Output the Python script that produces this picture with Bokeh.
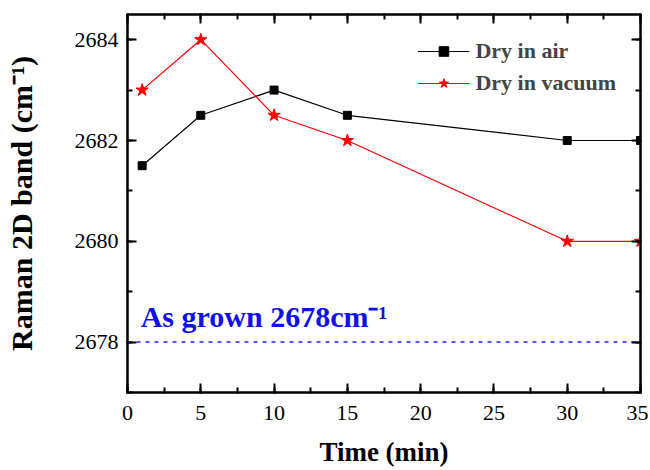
from bokeh.plotting import figure
from bokeh.models import LinearAxis, Range1d, SingleIntervalTicker, Legend, LegendItem
from bokeh.core.properties import value
from bokeh.layouts import gridplot
from bokeh.embed import file_html
from bokeh.resources import INLINE

# data
time_air = [1, 5, 10, 15, 30, 35]
band_air = [2681.5, 2682.5, 2683.0, 2682.5, 2682.0, 2682.0]
time_vac = [1, 5, 10, 15, 30, 35]
band_vac = [2683.0, 2684.0, 2682.5, 2682.0, 2680.0, 2680.0]
as_grown = 2678.0
as_grown_x = [0, 35]
note_x = [0.9]
note_y = [2678.5]
note_text = ["As grown 2678cm\u207b\u00b9"]

SERIF = "Liberation Serif"

p = figure(frame_width=513, frame_height=378, output_backend="svg", toolbar_location=None,
           x_range=Range1d(0, 35), y_range=Range1d(2677, 2684.5),
           min_border_left=127, min_border_right=8, min_border_top=14, min_border_bottom=6,
           x_axis_location=None, y_axis_location=None)
p.xgrid.visible = False
p.ygrid.visible = False
p.outline_line_color = "black"
p.outline_line_width = 2


def style(ax, labels=True):
    ax.axis_line_width = 2
    ax.major_tick_in = 9
    ax.major_tick_out = 1
    ax.minor_tick_in = 5
    ax.minor_tick_out = 1
    ax.major_tick_line_width = 2
    ax.minor_tick_line_width = 2
    ax.major_label_text_font = SERIF
    ax.major_label_text_font_size = "22px" if labels else "0px"
    ax.major_label_text_color = "black"
    ax.axis_label_text_font = SERIF
    ax.axis_label_text_font_style = "bold"
    ax.axis_label_text_color = "black"
    if not labels:
        ax.major_label_standoff = 0


xb = LinearAxis(ticker=SingleIntervalTicker(interval=5, num_minor_ticks=2), axis_label="Time (min)")
style(xb)
xb.major_label_standoff = 12
xb.axis_label_standoff = 14
xb.axis_label_text_font_size = "27px"
p.add_layout(xb, "below")

yl = LinearAxis(ticker=SingleIntervalTicker(interval=2, num_minor_ticks=2), axis_label="Raman 2D band (cm\u207b\u00b9)")
style(yl)
yl.major_label_standoff = 8
yl.axis_label_standoff = 34
yl.axis_label_text_font_size = "30px"
p.add_layout(yl, "left")

xt = LinearAxis(ticker=SingleIntervalTicker(interval=5, num_minor_ticks=2))
style(xt, labels=False)
p.add_layout(xt, "above")

yr = LinearAxis(ticker=SingleIntervalTicker(interval=2, num_minor_ticks=2))
style(yr, labels=False)
p.add_layout(yr, "right")

# reference line and note
p.line(as_grown_x, [as_grown, as_grown], line_color="#2020ff", line_width=1.5, line_dash="4 5")
p.text(note_x, note_y, text=note_text, text_color="#1010ee", text_font=value(SERIF),
       text_font_style="bold", text_font_size="30px", text_baseline="alphabetic")

l1 = p.line(time_air, band_air, line_color="black", line_width=1.2)
m1 = p.scatter(time_air, band_air, marker="square", size=8, fill_color="black", line_color="black")
l2 = p.line(time_vac, band_vac, line_color="red", line_width=1.2)
m2 = p.scatter(time_vac, band_vac, marker="star", size=13, fill_color="red", line_color="red")

legend = Legend(items=[LegendItem(label="Dry in air", renderers=[l1, m1]),
                       LegendItem(label="Dry in vacuum", renderers=[l2, m2])],
                location="top_right", border_line_color=None, background_fill_alpha=0,
                label_text_font=SERIF, label_text_font_style="bold", label_text_font_size="22px",
                glyph_width=52, glyph_height=24, label_height=24, spacing=6,
                padding=6, margin=24, label_standoff=6)
p.add_layout(legend)

g = gridplot([[p]], toolbar_location=None)
open("out.html", "w").write(file_html(g, INLINE))
